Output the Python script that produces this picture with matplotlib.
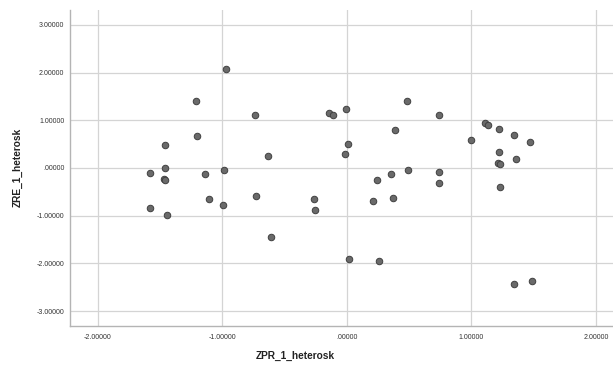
import matplotlib
matplotlib.use("Agg")
import matplotlib.pyplot as plt

plt.rcParams['font.family'] = ['Liberation Sans', 'DejaVu Sans']

zpr = [-0.970, -1.215, -0.736, -1.204, -1.463, -0.634, -1.463, -1.583, -1.465, -1.463,
       -1.142, -0.989,
       -0.145, -0.113, -0.010, 0.484, 0.742, 0.385, 0.006, -0.016, 0.245, 0.358,
       0.490, 0.740, 0.737, 0.998, 1.110, 1.137, 1.218, 1.344, 1.468, 1.223,
       1.213, 1.229, 1.358, 1.226,
       -1.583, -1.446, -1.105, -0.992, -0.731, -0.613, -0.260, -0.258,
       0.213, 0.371, 0.014, 0.261, 1.342, 1.490]
zre = [2.075, 1.400, 1.100, 0.665, 0.476, 0.260, 0.000, -0.105, -0.220, -0.260,
       -0.118, -0.048,
       1.153, 1.120, 1.245, 1.405, 1.120, 0.805, 0.510, 0.294, -0.243, -0.132,
       -0.034, -0.075, -0.314, 0.595, 0.943, 0.910, 0.826, 0.686, 0.545, 0.335,
       0.105, 0.092, 0.189, -0.390,
       -0.830, -0.985, -0.656, -0.782, -0.593, -1.446, -0.642, -0.887,
       -0.692, -0.629, -1.908, -1.950, -2.440, -2.370]

xticks = [-2, -1, 0, 1, 2]
xtick_labels = ['-2.00000', '-1.00000', '.00000', '1.00000', '2.00000']
yticks = [-3, -2, -1, 0, 1, 2, 3]
ytick_labels = ['-3.00000', '-2.00000', '-1.00000', '.00000', '1.00000', '2.00000', '3.00000']

W, H = 613, 365
fig = plt.figure(figsize=(W / 100, H / 100), dpi=100)
left, right, top, bottom = 70, 613, 10, 326
ax = fig.add_axes([left / W, (H - bottom) / H, (right - left) / W, (bottom - top) / H])

ax.set_xlim(-2.223, 2.137)
ax.set_ylim(-3.31, 3.31)
ax.set_xticks(xticks)
ax.set_xticklabels(xtick_labels)
ax.set_yticks(yticks)
ax.set_yticklabels(ytick_labels)
ax.tick_params(axis='both', length=0, labelsize=5, colors='#333333')
ax.tick_params(axis='x', pad=6)
ax.tick_params(axis='y', pad=4)

ax.grid(True, color='#d4d4d4', linewidth=0.9)
ax.set_axisbelow(True)
for s in ['top', 'right']:
    ax.spines[s].set_visible(False)
for s in ['left', 'bottom']:
    ax.spines[s].set_color('#b4b4b4')
    ax.spines[s].set_linewidth(1.0)

ax.scatter(zpr, zre, s=22, facecolor='#6a6a6a', edgecolor='#404040', linewidth=0.7, zorder=3)

fig.text(295.5 / W, 1 - 356 / H, 'ZPR_1_heterosk', ha='center', va='center',
         fontsize=7.3, fontweight='bold', color='#222222')
fig.text(18 / W, 1 - 167 / H, 'ZRE_1_heterosk', ha='center', va='center', rotation=90,
         fontsize=7.3, fontweight='bold', color='#222222')

fig.savefig('out.png', dpi=100)
